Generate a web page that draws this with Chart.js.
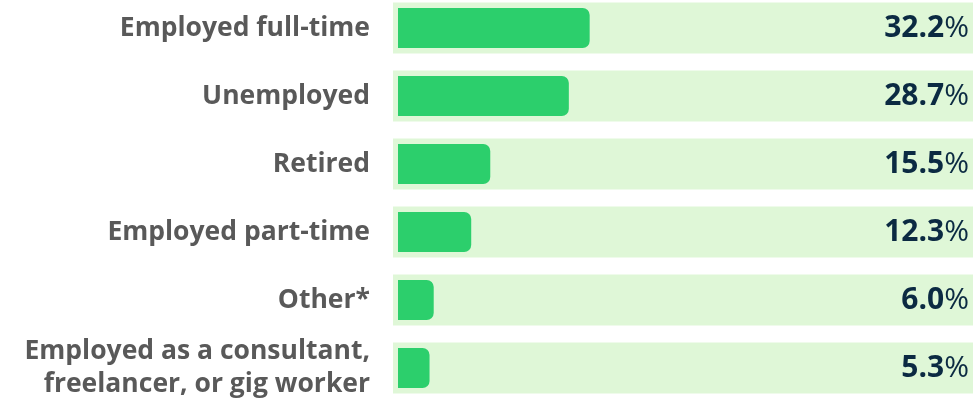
<!DOCTYPE html>
<html>
<head>
<meta charset="utf-8">
<script src="https://cdn.jsdelivr.net/npm/chart.js@4"></script>
<style>
  html, body { margin: 0; padding: 0; background: #fff; overflow: hidden; }
  #chart { position: absolute; left: 0; top: -6px; }
</style>
</head>
<body>
<canvas id="chart" width="973" height="408"></canvas>
<script>
const categories = [
  'Employed full-time',
  'Unemployed',
  'Retired',
  'Employed part-time',
  'Other*',
  ['Employed as a consultant,', 'freelancer, or gig worker']
];
const shares = [32.2, 28.7, 15.5, 12.3, 6.0, 5.3];

// light track behind each bar, spans the whole value axis
const TRACK_MIN = -0.84;
const TRACK_MAX = 96.6;

const valueLabels = {
  id: 'valueLabels',
  afterDatasetsDraw(chart) {
    const ctx = chart.ctx;
    const meta = chart.getDatasetMeta(0);
    const right = chart.chartArea.right - 4;
    ctx.save();
    ctx.textBaseline = 'middle';
    ctx.textAlign = 'right';
    ctx.fillStyle = '#0b2a42';
    meta.data.forEach((bar, i) => {
      ctx.font = '400 30px "Open Sans"';
      ctx.fillText('%', right, bar.y);
      const w = ctx.measureText('%').width;
      ctx.font = '700 30px "Open Sans"';
      ctx.fillText(shares[i].toFixed(1), right - w, bar.y);
    });
    ctx.restore();
  }
};

new Chart(document.getElementById('chart'), {
  type: 'bar',
  data: {
    labels: categories,
    datasets: [
      {
        data: shares,
        backgroundColor: '#2ccf6c',
        borderRadius: 7,
        borderSkipped: 'start',
        barPercentage: 0.59,
        categoryPercentage: 1,
        order: 1
      },
      {
        data: shares.map(() => [TRACK_MIN, TRACK_MAX]),
        backgroundColor: '#dff7d7',
        borderRadius: 0,
        barPercentage: 0.75,
        categoryPercentage: 1,
        order: 2
      }
    ]
  },
  options: {
    indexAxis: 'y',
    responsive: false,
    animation: false,
    layout: { padding: 0 },
    plugins: {
      legend: { display: false },
      tooltip: { enabled: false }
    },
    scales: {
      x: { display: false, min: TRACK_MIN, max: TRACK_MAX },
      y: {
        grid: { display: false, drawTicks: false },
        border: { display: false },
        ticks: {
          autoSkip: false,
          padding: 23,
          color: '#595959',
          font: { family: 'Open Sans', size: 26.5, weight: '700', lineHeight: 1.25 }
        },
        afterFit(scale) {
          scale.width = 393;
          scale.paddingTop = 0;
          scale.paddingBottom = 0;
        }
      }
    },
    datasets: { bar: { grouped: false } }
  },
  plugins: [valueLabels]
});
</script>
</body>
</html>
